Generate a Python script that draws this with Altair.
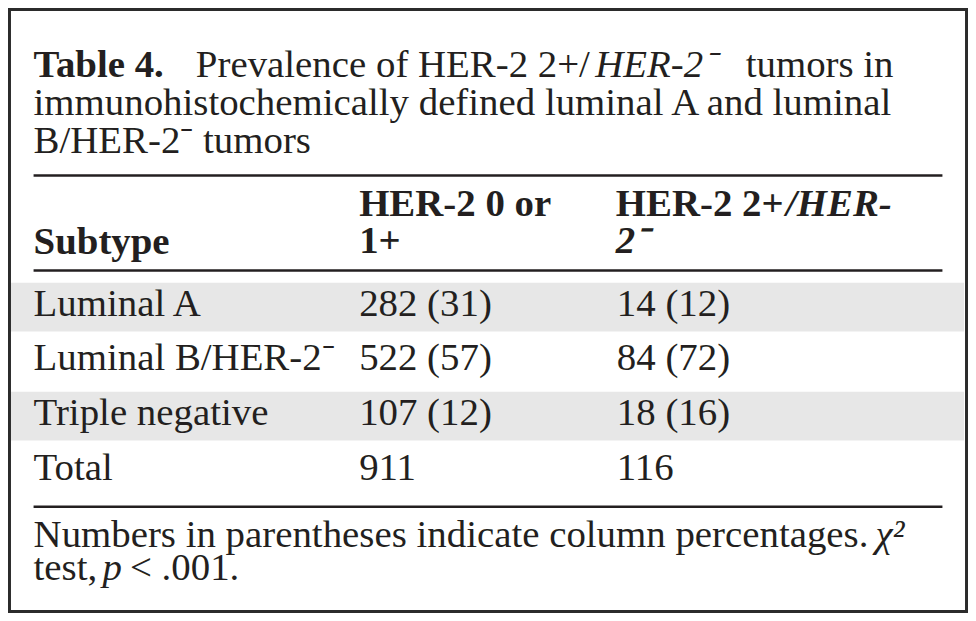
import altair as alt
import pandas as pd

SUP = "\u207b"   # superscript minus
subtypes = ["Luminal A", "Luminal B/HER-2" + SUP, "Triple negative", "Total"]
her2_low_n = [282, 522, 107, 911]               # HER-2 0 or 1+
her2_low_pct = [31, 57, 12, None]
her2_pos_n = [14, 84, 18, 116]                  # HER-2 2+/HER-2-
her2_pos_pct = [12, 72, 16, None]
shaded = [True, False, True, False]

title_label = "Table 4."
title_l1 = ["Prevalence of HER-2 2+/", "HER-2" + SUP, "tumors in"]
title_l2 = "immunohistochemically defined luminal A and luminal"
title_l3 = "B/HER-2" + SUP + " tumors"
header_sub = "Subtype"
header_c1 = ["HER-2 0 or", "1+"]
header_c2 = ["HER-2 2+", "/HER-", "2" + SUP]
foot_l1 = ["Numbers in parentheses indicate column percentages.", "\u03c7\u00b2"]
foot_l2 = ["test,", "p", "< .001."]


def cell(n, p):
    return f"{n}" if p is None else f"{n} ({p})"


# ---------------- layout (reference pixel space 976 x 621) ----------------
W, H = 976, 621
CW, CH = 960, 605
k = CW / W
FS = 39.5 * k
INK = "#231f20"
FONT = "Liberation Serif"

X0, XC1, XC2 = 26, 357, 619
ROW0, PITCH = 316, 56

texts = []


def put(t, x, y, st):
    texts.append({"t": t, "x": x, "y": y, "st": st})


# title
put(title_label, X0, 71, "b")
put(title_l1[0], 191, 71, "r")
put(title_l1[1], 597, 71, "i")
put(title_l1[2], 750, 71, "r")
put(title_l2, X0, 110, "r")
put(title_l3, X0, 149, "r")
# header
put(header_sub, X0, 252, "b")
put(header_c1[0], XC1, 213, "b")
put(header_c1[1], XC1, 251, "b")
put(header_c2[0], 618, 213, "b")
put(header_c2[1], 791, 213, "bi")
put(header_c2[2], 618, 251, "bi")
# body
for i, s in enumerate(subtypes):
    yb = ROW0 + i * PITCH
    put(s, X0, yb, "r")
    put(cell(her2_low_n[i], her2_low_pct[i]), XC1, yb, "r")
    put(cell(her2_pos_n[i], her2_pos_pct[i]), XC2, yb, "r")
# footnote
put(foot_l1[0], X0, 553, "r")
put(foot_l1[1], 882, 553, "i")
put(foot_l2[0], X0, 587, "r")
put(foot_l2[1], 96, 587, "i")
put(foot_l2[2], 124, 587, "r")

tdf = pd.DataFrame(texts)

shade_rows = []
for i, s in enumerate(shaded):
    if s:
        yb = ROW0 + i * PITCH
        shade_rows.append({"x": 3, "x2": 972, "y": yb - 34, "y2": yb + 16})
sdf = pd.DataFrame(shade_rows)

rdf = pd.DataFrame({"x": [26, 26, 26], "x2": [950, 950, 950], "y": [172, 269.5, 512]})
bdf = pd.DataFrame({"x": [1.5], "x2": [974.5], "y": [1.5], "y2": [619.5]})

xs = alt.Scale(domain=[0, W], range=[0, CW])
ys = alt.Scale(domain=[0, H], range=[0, CH])


def X(f):
    return alt.X(f, type="quantitative", scale=xs, axis=None)


def Y(f):
    return alt.Y(f, type="quantitative", scale=ys, axis=None)


shade = alt.Chart(sdf).mark_rect(color="#e7e7e7").encode(
    x=X("x"), x2="x2", y=Y("y"), y2="y2")
rules = alt.Chart(rdf).mark_rule(color=INK, strokeWidth=2.5 * k).encode(
    x=X("x"), x2="x2", y=Y("y"))
border = alt.Chart(bdf).mark_rect(fill=None, stroke="#2b2b2b", strokeWidth=3).encode(
    x=X("x"), x2="x2", y=Y("y"), y2="y2")

styles = {
    "r": dict(fontSize=FS),
    "b": dict(fontSize=FS, fontWeight="bold"),
    "i": dict(fontSize=FS, fontStyle="italic"),
    "bi": dict(fontSize=FS, fontWeight="bold", fontStyle="italic"),
}

layers = [shade, rules, border]
for st, props in styles.items():
    sub = tdf[tdf["st"] == st]
    if len(sub) == 0:
        continue
    layers.append(
        alt.Chart(sub).mark_text(align="left", baseline="alphabetic", font=FONT,
                                 color=INK, **props).encode(
            x=X("x"), y=Y("y"), text="t:N")
    )

chart = alt.layer(*layers).properties(
    width=CW, height=CH, padding=0, autosize="none", background="white"
).configure_view(stroke=None)

chart.save("out.html", embed_options={"renderer": "svg", "actions": False})
